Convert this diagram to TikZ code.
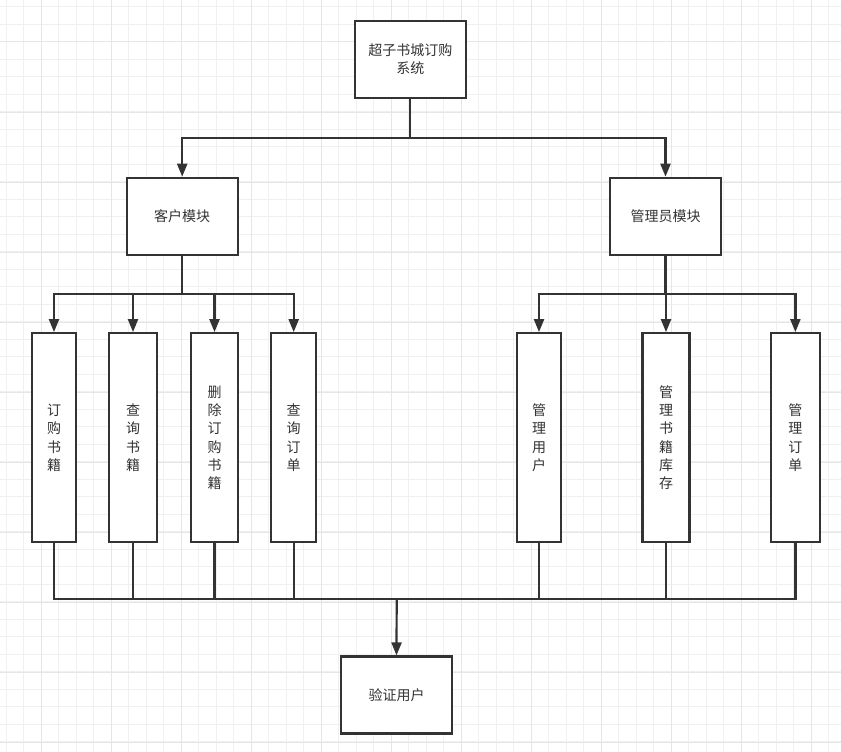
\documentclass[tikz,border=0pt]{standalone}
\usepackage{fontspec}
\usepackage{xcolor}
\usetikzlibrary{arrows.meta, positioning, calc}
\newfontfamily\cjk{Noto Sans CJK SC}
\definecolor{ink}{HTML}{333333}
\definecolor{gridminor}{HTML}{F0F0F0}
\definecolor{gridmajor}{HTML}{E6E6E6}

\begin{document}
\begin{tikzpicture}[x=1pt, y=-1pt,
    every node/.style={align=center, text=ink, font=\cjk\fontsize{14}{18.3}\selectfont},
    box/.style={draw=ink, line width=2.2pt, fill=white, inner sep=0pt},
    widebox/.style={box, minimum width=111pt, minimum height=77pt},
    tallbox/.style={box, minimum height=209pt},
    link/.style={draw=ink, line width=2.2pt},
    arr/.style={link, -{Triangle[length=13pt, width=10pt]}}]
    \useasboundingbox (0,0) rectangle (841,752);
    % background grid
    \fill[white] (0,0) rectangle (841,752);
    \begin{scope}
        \clip (0,0) rectangle (841,752);
        \foreach \i in {0,...,47} {
            \draw[gridminor, line width=1pt] ({6+17.5*\i},0) -- ++(0,752);
            \draw[gridminor, line width=1pt] (0,{6.7+17.5*\i}) -- ++(841,0);
        }
        \foreach \i in {0,...,11} {
            \draw[gridmajor, line width=1pt] ({41+70*\i},0) -- ++(0,752);
            \draw[gridmajor, line width=1pt] (0,{42+70*\i}) -- ++(841,0);
        }
    \end{scope}

    % top levels
    \node[widebox] (sys) at (410.3,59.3) {超子书城订购\\系统};
    \node[widebox] (cust) at (182.2,216.3) {客户模块};
    \node[widebox] (admin) at (665.5,216.3) {管理员模块};

    % customer functions
    \node[tallbox, minimum width=44pt] (order) at (54,437.7) {订\\购\\书\\籍};
    \node[tallbox, minimum width=48pt] (query) at (133,437.7) {查\\询\\书\\籍};
    \node[tallbox, minimum width=47pt] (delete) at (214.5,437.7) {删\\除\\订\\购\\书\\籍};
    \node[tallbox, minimum width=45pt] (orders) at (293.7,437.7) {查\\询\\订\\单};

    % admin functions
    \node[tallbox, minimum width=44pt] (users) at (539,437.7) {管\\理\\用\\户};
    \node[tallbox, minimum width=47pt] (stock) at (666,437.7) {管\\理\\书\\籍\\库\\存};
    \node[tallbox, minimum width=49pt] (manage) at (795.4,437.7) {管\\理\\订\\单};

    \node[widebox] (verify) at (396.5,695) {验证用户};

    % connectors from the top
    \draw[link] (sys.south) -- ++(0,39) coordinate (busA);
    \draw[arr] (busA) -| (cust.north);
    \draw[arr] (busA) -| (admin.north);

    \draw[link] (cust.south) -- ++(0,38) coordinate (busC);
    \foreach \n in {order, query, delete, orders}
        \draw[arr] (busC) -| (\n.north);

    \draw[link] (admin.south) -- ++(0,38) coordinate (busM);
    \foreach \n in {users, stock, manage}
        \draw[arr] (busM) -| (\n.north);

    % collecting bus to verify
    \coordinate (busB) at (396.7,599);
    \foreach \n in {order, query, delete, orders, users, stock, manage}
        \draw[link] (\n.south) |- (busB);
    \draw[arr] (busB) -- (verify.north);
\end{tikzpicture}
\end{document}
